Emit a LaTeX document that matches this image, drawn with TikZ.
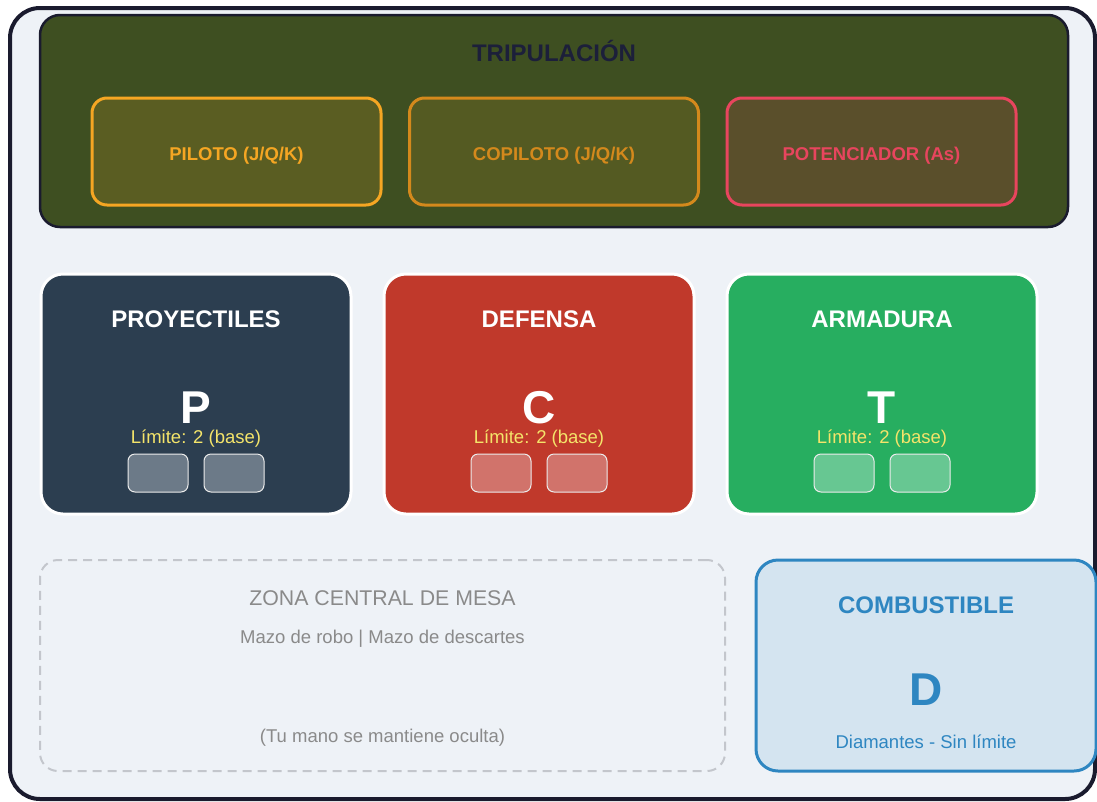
\documentclass[tikz,border=0pt]{standalone}
\usepackage{fontspec}
\setmainfont{Liberation Sans}
\definecolor{pagebg}{HTML}{EEF2F7}
\definecolor{frame}{HTML}{1A1B2E}
\definecolor{crewbg}{HTML}{3E4F21}
\definecolor{pilotfill}{HTML}{5A5D22}
\definecolor{pilotline}{HTML}{F5A623}
\definecolor{copifill}{HTML}{545A22}
\definecolor{copiline}{HTML}{D4891C}
\definecolor{potfill}{HTML}{5A4F2B}
\definecolor{potline}{HTML}{E8455E}
\definecolor{navy}{HTML}{2C3E50}
\definecolor{navyslot}{HTML}{6C7A88}
\definecolor{redc}{HTML}{C0392B}
\definecolor{redslot}{HTML}{D1736B}
\definecolor{greenc}{HTML}{27AE60}
\definecolor{greenslot}{HTML}{67C792}
\definecolor{limtext}{HTML}{F4E46A}
\definecolor{dashgray}{HTML}{C3C6CC}
\definecolor{zonetext}{HTML}{8A8A8A}
\definecolor{fuelfill}{HTML}{D4E4F0}
\definecolor{fuel}{HTML}{2E86C1}
\definecolor{titlenavy}{HTML}{1C1F3A}
\tikzset{
  box/.style={rectangle, inner sep=0pt, outer sep=0pt},
  txt/.style={inner sep=0pt, outer sep=0pt, anchor=base},
  crewbox/.style={box, line width=3pt, rounded corners=15pt, minimum width=289pt, minimum height=107pt},
  card/.style={box, draw=white, line width=3pt, rounded corners=22pt, minimum width=310pt, minimum height=240pt},
  slot/.style={box, draw=white!85!gray, line width=1pt, rounded corners=7pt, minimum width=60pt, minimum height=38pt},
  bigtitle/.style={txt, font=\fontsize{24}{28}\selectfont\bfseries},
  crewlabel/.style={txt, font=\fontsize{18.5}{22}\selectfont\bfseries},
  bigletter/.style={txt, font=\fontsize{46}{50}\selectfont\bfseries},
  small/.style={txt, font=\fontsize{18.5}{22}\selectfont},
}
\begin{document}
\begin{tikzpicture}[x=1pt,y=-1pt]
\useasboundingbox (0,0) rectangle (1097,801);
% outer frame
\node[box, draw=frame, fill=pagebg, line width=4pt, rounded corners=30pt, minimum width=1085pt, minimum height=791pt] (frame) at (552.5,403.5) {};
% crew
\node[box, draw=frame, fill=crewbg, line width=2.5pt, rounded corners=20pt, minimum width=1028pt, minimum height=212pt] (crew) at (554,121) {};
\node[bigtitle, text=titlenavy] (crewtitle) at (554,61.5) {TRIPULACIÓN};
\node[crewbox, draw=pilotline, fill=pilotfill] (piloto) at (236.5,151.5) {};
\node[crewlabel, text=pilotline] (pilototxt) at (236.5,160) {PILOTO (J/Q/K)};
\node[crewbox, draw=copiline, fill=copifill] (copiloto) at (554,151.5) {};
\node[crewlabel, text=copiline] (copilototxt) at (554,160) {COPILOTO (J/Q/K)};
\node[crewbox, draw=potline, fill=potfill] (pot) at (871.5,151.5) {};
\node[crewlabel, text=potline] (pottxt) at (871.5,160) {POTENCIADOR (As)};
% cards
\foreach \nm/\cx/\col/\scol/\ttl/\ltr in {proy/196/navy/navyslot/PROYECTILES/P, def/539/redc/redslot/DEFENSA/C, arm/882/greenc/greenslot/ARMADURA/T}{
  \node[card, fill=\col] (\nm) at (\cx,394) {};
  \node[bigtitle, text=white] (\nm-title) at (\cx,327) {\ttl};
  \node[bigletter, text=white] (\nm-letter) at (\cx,423) {\ltr};
  \node[small, text=limtext] (\nm-lim) at (\cx,443) {Límite: 2 (base)};
  \node[slot, fill=\scol] (\nm-s1) at (\cx-38,473) {};
  \node[slot, fill=\scol] (\nm-s2) at (\cx+38,473) {};
}
% zone
\node[box, draw=dashgray, line width=2pt, dash pattern=on 9pt off 6pt, rounded corners=18pt, minimum width=685pt, minimum height=211pt] (zone) at (382.5,665.5) {};
\node[txt, text=zonetext, font=\fontsize{21.3}{25}\selectfont] (zonetitle) at (382.5,605) {ZONA CENTRAL DE MESA};
\node[small, text=zonetext] (zonedecks) at (382.5,643) {Mazo de robo | Mazo de descartes};
\node[small, text=zonetext] (zonehand) at (382.5,742) {(Tu mano se mantiene oculta)};
% fuel
\node[box, draw=fuel, fill=fuelfill, line width=3pt, rounded corners=22pt, minimum width=340pt, minimum height=211pt] (fuelbox) at (926,665.5) {};
\node[bigtitle, text=fuel] (fueltitle) at (926,613) {COMBUSTIBLE};
\node[bigletter, text=fuel] (fuelletter) at (926,705) {D};
\node[small, text=fuel] (fueltxt) at (926,748.5) {Diamantes - Sin límite};
\end{tikzpicture}
\end{document}
